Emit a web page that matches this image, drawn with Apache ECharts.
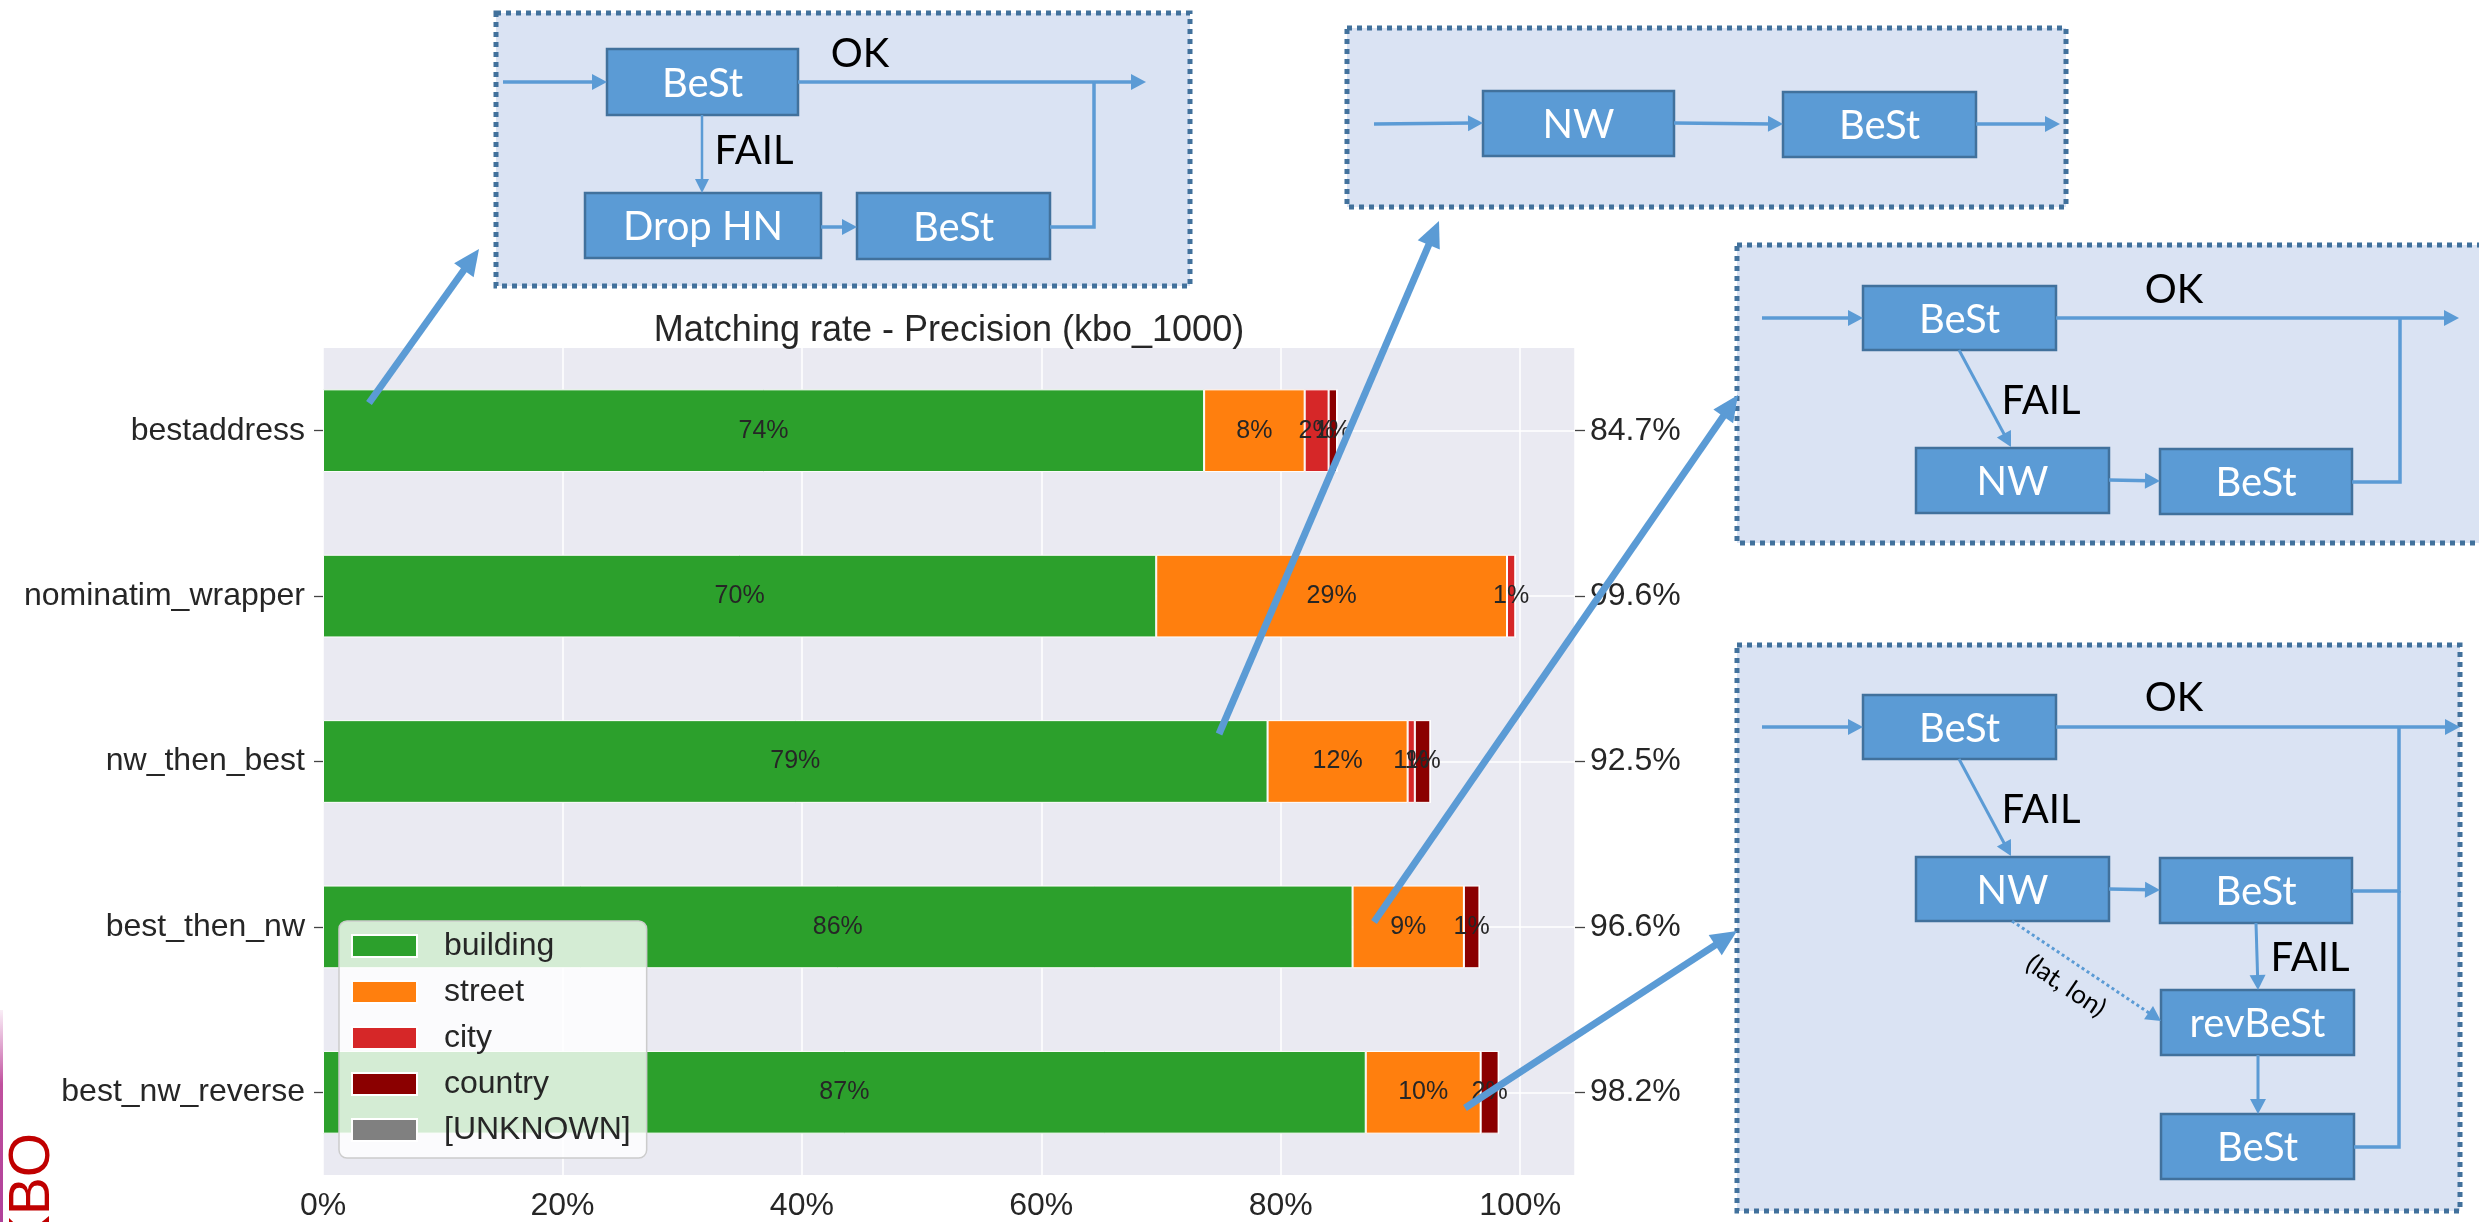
<!DOCTYPE html>
<html>
<head>
<meta charset="utf-8">
<script src="https://cdn.jsdelivr.net/npm/echarts@6/dist/echarts.min.js"></script>
<style>
  html, body { margin: 0; padding: 0; background: #ffffff; }
  #main { width: 2479px; height: 1222px; }
</style>
</head>
<body>
<div id="main"></div>
<script>
// Geocoder comparison on kbo_1000: share of results per precision level (percent)
const categories = ['bestaddress', 'nominatim_wrapper', 'nw_then_best', 'best_then_nw', 'best_nw_reverse'];
const building = [73.6, 69.6, 78.9, 86.0, 87.1];
const street   = [8.4, 29.3, 11.7, 9.3, 9.6];
const city     = [2.0, 0.7, 0.6, 0, 0];
const country  = [0.7, 0, 1.3, 1.3, 1.5];
const unknown  = [0, 0, 0, 0, 0];
const xTicks   = [0, 20, 40, 60, 80, 100];
const seriesNames = ['building', 'street', 'city', 'country', '[UNKNOWN]'];

const seriesValues = [building, street, city, country, unknown];
const seriesColors = ['#2ca02c', '#ff7f0e', '#d62728', '#8b0000', '#808080'];

// total matching rate per method, shown on the right-hand axis
const totals = categories.map((_, i) => seriesValues.reduce((s, arr) => s + arr[i], 0));
const totalLabels = totals.map(t => t.toFixed(1) + '%');
const xMax = Math.max(...totals) * 1.05;

const TEXT = '#262626';
const FONT = 'Liberation Sans, Arial, sans-serif';

// ---- pipeline sketches drawn around the chart ----
const FILL = '#DAE3F3', NODE = '#5B9BD5', EDGE = '#41719C', FLOW = '#5B9BD5';
const DFONT = 'Lato, sans-serif';
const els = [];

function frame(x, y, w, h) {
  els.push({ type: 'rect', z: 90, silent: true, shape: { x, y, width: w, height: h },
    style: { fill: FILL, stroke: EDGE, lineWidth: 5, lineDash: [5, 5] } });
}
function txt(x, y, t, size, color, rot) {
  els.push({ type: 'text', z: 103, silent: true, x, y, rotation: rot || 0,
    style: { text: t, x: 0, y: 0, fill: color, fontSize: size, fontFamily: DFONT,
      align: 'center', verticalAlign: 'middle', textAlign: 'center', textVerticalAlign: 'middle' } });
}
function node(x, y, w, h, t) {
  els.push({ type: 'rect', z: 95, silent: true, shape: { x, y, width: w, height: h },
    style: { fill: NODE, stroke: EDGE, lineWidth: 2.5 } });
  txt(x + w / 2, y + h / 2 + 2, t, 40, '#ffffff');
}
function poly(pts, w, dash) {
  els.push({ type: 'polyline', z: 96, silent: true, shape: { points: pts },
    style: { stroke: FLOW, lineWidth: w, fill: null, lineDash: dash || null } });
}
function arrow(x1, y1, x2, y2, w, len, half, dash) {
  const a = Math.atan2(y2 - y1, x2 - x1);
  const bx = x2 - len * Math.cos(a), by = y2 - len * Math.sin(a);
  const px = -Math.sin(a) * half, py = Math.cos(a) * half;
  const ex = x2 - len * 0.7 * Math.cos(a), ey = y2 - len * 0.7 * Math.sin(a);
  poly([[x1, y1], [ex, ey]], w, dash);
  els.push({ type: 'polygon', z: 97, silent: true,
    shape: { points: [[x2, y2], [bx + px, by + py], [bx - px, by - py]] },
    style: { fill: FLOW } });
}
const flow = (x1, y1, x2, y2) => arrow(x1, y1, x2, y2, 3.5, 15, 8);

// bestaddress: BeSt, retry without house number
frame(496, 13, 694, 273);
flow(503, 82, 607, 82);
node(607, 49, 191, 66, 'BeSt');
txt(860, 54, 'OK', 40, '#000000');
flow(798, 82, 1146, 82);
poly([[1050, 227], [1094, 227], [1094, 82]], 3.5);
arrow(702, 115, 702, 193, 2.5, 14, 7);
txt(754, 151, 'FAIL', 40, '#000000');
node(585, 193, 236, 65, 'Drop HN');
flow(821, 227, 857, 227);
node(857, 193, 193, 66, 'BeSt');

// nw_then_best
frame(1347, 28, 719, 179);
flow(1374, 124, 1483, 123);
node(1483, 91, 191, 65, 'NW');
flow(1674, 123, 1783, 124);
node(1783, 92, 193, 65, 'BeSt');
flow(1976, 124, 2060, 124);

// best_then_nw
frame(1737, 245, 770, 298);
flow(1762, 318, 1863, 318);
node(1863, 286, 193, 64, 'BeSt');
txt(2174, 290, 'OK', 40, '#000000');
flow(2056, 318, 2459, 318);
poly([[2352, 482], [2400, 482], [2400, 318]], 3.5);
arrow(1959, 350, 2011, 447, 3, 15, 8);
txt(2041, 401, 'FAIL', 40, '#000000');
node(1916, 448, 193, 65, 'NW');
flow(2109, 480, 2160, 481);
node(2160, 449, 192, 65, 'BeSt');

// best_nw_reverse
frame(1737, 645, 723, 566);
flow(1762, 727, 1863, 727);
node(1863, 695, 193, 64, 'BeSt');
txt(2174, 698, 'OK', 40, '#000000');
flow(2056, 727, 2460, 727);
poly([[2352, 891], [2399, 891], [2399, 727]], 3.5);
poly([[2354, 1147], [2399, 1147], [2399, 891]], 3.5);
arrow(1959, 759, 2011, 856, 3, 15, 8);
txt(2041, 810, 'FAIL', 40, '#000000');
node(1916, 857, 193, 64, 'NW');
flow(2109, 889, 2160, 890);
node(2160, 858, 192, 65, 'BeSt');
arrow(2256, 923, 2258, 990, 3, 15, 8);
txt(2310, 958, 'FAIL', 40, '#000000');
node(2161, 990, 193, 65, 'revBeSt');
arrow(2258, 1055, 2258, 1114, 3, 15, 8);
node(2161, 1114, 193, 65, 'BeSt');
arrow(2012, 921, 2161, 1021, 3, 15, 8, [3, 3]);
txt(2066, 986, '(lat, lon)', 26, '#000000', -0.59);

// pointers from each bar to its pipeline
const pointer = (x1, y1, x2, y2) => arrow(x1, y1, x2, y2, 7, 26, 12);
pointer(369, 403, 479, 249);
pointer(1219, 734, 1439, 221);
pointer(1374, 922, 1738, 395);
pointer(1465, 1108, 1737, 931);

// title
els.push({ type: 'text', z: 103, silent: true,
  style: { text: 'Matching rate - Precision (kbo_1000)', x: 949, y: 331, fill: TEXT,
    fontSize: 36, fontFamily: FONT, align: 'center', verticalAlign: 'middle',
    textAlign: 'center', textVerticalAlign: 'middle' } });

// slide branding at the lower left edge
els.push({ type: 'rect', z: 90, silent: true, shape: { x: 0, y: 1010, width: 3, height: 212 },
  style: { fill: new echarts.graphic.LinearGradient(0, 0, 0, 1, [
    { offset: 0, color: 'rgba(200,90,170,0.1)' }, { offset: 0.35, color: '#c0509e' }, { offset: 1, color: '#b0409a' }]) } });
els.push({ type: 'text', z: 103, silent: true, x: 33, y: 1133, rotation: Math.PI / 2,
  style: { text: 'KBO', x: 0, y: 0, fill: '#c00000', fontSize: 57, fontFamily: FONT,
    align: 'right', verticalAlign: 'middle', textAlign: 'right', textVerticalAlign: 'middle' } });

const barSeries = seriesNames.map((name, k) => ({
  name,
  type: 'bar',
  stack: 'total',
  barWidth: '50%',
  z: 2,
  data: seriesValues[k],
  itemStyle: { color: seriesColors[k], borderColor: '#ffffff', borderWidth: 1 },
  label: {
    show: true,
    position: 'inside',
    formatter: p => (p.value > 0 ? Math.round(p.value) + '%' : ''),
    fontSize: 25,
    fontFamily: FONT,
    color: TEXT
  }
}));

const option = {
  animation: false,
  backgroundColor: '#ffffff',
  grid: { left: 323, right: 904, top: 348, bottom: 44, show: true,
          backgroundColor: '#EAEAF2', borderWidth: 0 },
  xAxis: {
    type: 'value', min: 0, max: xMax, interval: 20,
    axisLine: { show: false }, axisTick: { show: false },
    axisLabel: { fontSize: 32, fontFamily: FONT, color: TEXT, margin: 15,
      formatter: v => (xTicks.indexOf(Math.round(v * 1000) / 1000) >= 0 ? v + '%' : '') },
    splitLine: { show: true, lineStyle: { color: '#ffffff', width: 1.5 } }
  },
  yAxis: [
    {
      type: 'category', data: categories, inverse: true,
      axisLine: { show: false },
      axisTick: { show: true, alignWithLabel: true, length: 9, lineStyle: { color: '#444', width: 1.3 } },
      axisLabel: { fontSize: 32, fontFamily: FONT, color: TEXT, margin: 18 },
      splitLine: { show: false }
    },
    {
      type: 'category', data: totalLabels, inverse: true, position: 'right',
      axisLine: { show: false },
      axisTick: { show: true, alignWithLabel: true, length: 10, lineStyle: { color: '#444', width: 1.3 } },
      axisLabel: { fontSize: 32, fontFamily: FONT, color: TEXT, margin: 15 },
      splitLine: { show: false }
    }
  ],
  legend: {
    data: seriesNames,
    orient: 'vertical',
    left: 339, top: 921,
    icon: 'rect',
    itemWidth: 65, itemHeight: 22, itemGap: 14,
    padding: [9, 16, 12, 12],
    backgroundColor: 'rgba(255,255,255,0.8)',
    borderColor: '#cccccc', borderWidth: 1.5, borderRadius: 8,
    textStyle: { fontSize: 32, fontFamily: FONT, color: TEXT, padding: [0, 0, 0, 22] }
  },
  series: [
    // horizontal grid lines through the category centres, kept under the bars
    {
      type: 'line', data: [], z: 1, silent: true,
      markLine: {
        z: 1,
        symbol: 'none', silent: true, label: { show: false },
        lineStyle: { color: '#ffffff', width: 1.5, type: 'solid' },
        data: categories.map(c => ({ yAxis: c }))
      }
    },
    ...barSeries
  ],
  graphic: { elements: els }
};

const chart = echarts.init(document.getElementById('main'), null, { renderer: 'canvas' });
chart.setOption(option);
</script>
</body>
</html>
